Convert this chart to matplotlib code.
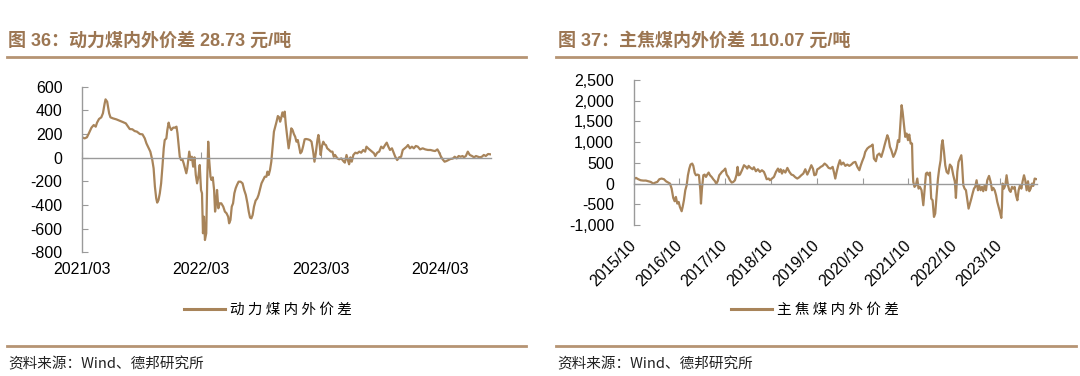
import numpy as np
import matplotlib
matplotlib.use("Agg")
import matplotlib.pyplot as plt
import matplotlib.dates as mdates
from matplotlib.lines import Line2D
from matplotlib.ticker import FuncFormatter

plt.rcParams['font.family'] = ['Liberation Sans', 'Noto Sans CJK SC', 'DejaVu Sans']
plt.rcParams['axes.unicode_minus'] = False

# ---------------- data ----------------
left_title = "图 36：动力煤内外价差 28.73 元/吨"
right_title = "图 37：主焦煤内外价差 110.07 元/吨"
left_label = "动力煤内外价差"
right_label = "主焦煤内外价差"
source_text = "资料来源：Wind、德邦研究所"

left_start = "2021-03-01"
left_days = [0, 8, 15, 21, 29, 36, 42, 46, 52, 59,
             64, 69, 72, 77, 83, 87, 95, 105, 115, 125,
             134, 141, 146, 154, 161, 168, 177, 185, 192, 197,
             204, 209, 215, 219, 223, 227, 230, 234, 238, 242,
             246, 250, 253, 258, 261, 265, 268, 273, 279, 284,
             289, 292, 296, 299, 303, 307, 311, 315, 319, 322,
             328, 332, 336, 340, 344, 348, 352, 356, 360, 364,
             367, 370, 373, 376, 380, 383, 386, 389, 393, 396,
             400, 404, 407, 410, 413, 417, 421, 426, 432, 437,
             442, 447, 450, 454, 458, 462, 466, 470, 474, 479,
             485, 491, 496, 501, 506, 510, 514, 518, 522, 526,
             531, 536, 540, 544, 549, 554, 559, 564, 567, 571,
             575, 579, 583, 587, 591, 595, 599, 603, 606, 609,
             613, 617, 620, 623, 627, 632, 636, 640, 644, 648,
             652, 656, 660, 664, 668, 672, 676, 681, 685, 691,
             697, 702, 707, 711, 715, 720, 723, 726, 730, 734,
             738, 742, 746, 750, 756, 761, 766, 770, 774, 781,
             787, 793, 799, 804, 809, 813, 817, 821, 825, 830,
             836, 842, 848, 854, 860, 866, 870, 875, 881, 887,
             893, 897, 903, 909, 915, 921, 927, 932, 937, 942,
             948, 952, 958, 964, 970, 976, 981, 987, 993, 997,
             1003, 1009, 1015, 1021, 1027, 1034, 1042, 1050, 1058, 1066,
             1074, 1080, 1087, 1091, 1097, 1103, 1109, 1115, 1121, 1127,
             1134, 1140, 1146, 1152, 1158, 1164, 1168, 1174, 1180, 1186,
             1193, 1199, 1205, 1211, 1217, 1223, 1229, 1235, 1242, 1248]
left_vals = [172, 163, 172, 206, 254, 276, 262, 296, 327, 341,
             375, 454, 493, 473, 375, 341, 332, 324, 313, 301,
             290, 262, 242, 240, 225, 220, 200, 197, 163, 121,
             79, 51, -20, -90, -245, -344, -380, -358, -301, -217,
             -76, 79, 149, 163, 234, 296, 262, 234, 254, 254,
             262, 206, 93, 8, -20, -14, -48, -90, -132, -90,
             51, -20, 8, -76, 3, -146, -217, -161, -62, -273,
             -301, -639, -499, -696, -639, -189, 135, -20, -161, -189,
             -166, -273, -456, -386, -273, -428, -386, -386, -414, -456,
             -470, -499, -555, -527, -414, -386, -301, -259, -231, -203,
             -203, -217, -273, -315, -386, -456, -507, -513, -484, -414,
             -363, -344, -315, -273, -217, -189, -161, -161, -118, -146,
             -104, -34, 93, 220, 262, 304, 352, 341, 304, 332,
             383, 347, 389, 290, 192, 79, 149, 248, 234, 200,
             177, 135, 149, 93, 37, 51, 93, 155, 158, 155,
             149, 135, 51, -34, 37, 149, 192, 135, 23, 99,
             135, 113, 107, 79, 65, 51, 51, 8, 23, -6,
             -14, -6, -28, -42, 23, -20, -56, 3, -34, 23,
             42, 37, 51, 42, 65, 51, 93, 79, 65, 51,
             37, 14, 42, 51, 93, 79, 107, 127, 93, 65,
             79, 51, 8, -20, 3, 8, 65, 79, 93, 107,
             79, 93, 79, 99, 93, 70, 79, 70, 65, 65,
             59, 56, 70, 51, 14, -14, -34, -28, -20, -11,
             -8, 8, -6, 14, 8, 14, 3, 14, 51, 23,
             14, 3, 14, 8, 3, 8, 23, 14, 31, 28.73]
left_end_day = 1250
left_ticks = ["2021-03-01", "2022-03-01", "2023-03-01", "2024-03-01"]
left_ylim = (-800, 600)
left_yticks = [-800, -600, -400, -200, 0, 200, 400, 600]

right_start = "2015-10-01"
right_days = [0, 20, 38, 57, 78, 99, 118, 137, 158, 174,
              190, 206, 224, 243, 259, 277, 291, 304, 317, 328,
              338, 349, 360, 370, 384, 392, 402, 413, 424, 434,
              445, 455, 468, 477, 488, 498, 511, 522, 533, 538,
              546, 557, 567, 578, 588, 599, 610, 623, 636, 650,
              660, 671, 684, 695, 705, 721, 732, 743, 756, 769,
              783, 796, 809, 822, 830, 838, 849, 865, 881, 897,
              907, 918, 934, 950, 960, 976, 992, 1008, 1024, 1040,
              1051, 1062, 1078, 1088, 1104, 1120, 1136, 1152, 1163, 1173,
              1184, 1195, 1211, 1227, 1243, 1259, 1274, 1290, 1306, 1322,
              1338, 1354, 1370, 1386, 1402, 1418, 1431, 1442, 1455, 1466,
              1477, 1493, 1508, 1524, 1540, 1556, 1572, 1588, 1599, 1609,
              1620, 1633, 1646, 1657, 1673, 1689, 1705, 1721, 1737, 1753,
              1769, 1785, 1801, 1811, 1824, 1838, 1848, 1864, 1880, 1896,
              1907, 1917, 1933, 1944, 1960, 1976, 1992, 2002, 2013, 2024,
              2034, 2045, 2056, 2072, 2085, 2098, 2109, 2119, 2130, 2138,
              2146, 2157, 2167, 2178, 2189, 2199, 2210, 2221, 2226, 2231,
              2241, 2252, 2263, 2273, 2284, 2297, 2311, 2321, 2332, 2342,
              2353, 2364, 2374, 2385, 2396, 2406, 2417, 2428, 2438, 2449,
              2457, 2465, 2476, 2486, 2497, 2510, 2523, 2537, 2550, 2563,
              2571, 2582, 2592, 2603, 2614, 2619, 2630, 2640, 2651, 2662,
              2672, 2683, 2694, 2704, 2715, 2725, 2736, 2747, 2757, 2768,
              2779, 2789, 2800, 2811, 2821, 2835, 2848, 2859, 2869, 2880,
              2891, 2901, 2912, 2922, 2933, 2938, 2943, 2954, 2965, 2975,
              2986, 2997, 3007, 3018, 3029, 3039, 3050, 3061, 3071, 3082,
              3093, 3103, 3114, 3124, 3135, 3146, 3156, 3167, 3178, 3188,
              3199, 3210]
right_vals = [105, 137, 105, 80, 72, 72, 56, 40, 0, 24,
              40, 105, 121, 105, 56, 24, 0, -121, -346, -427,
              -322, -483, -443, -564, -668, -564, -403, -161, -40, 201,
              362, 459, 483, 427, 258, 201, 217, 201, -161, -483,
              -121, 201, 217, 161, 217, 266, 201, 161, 105, 56,
              -8, 56, 201, 241, 282, 322, 362, 217, 161, 80,
              24, 40, 80, 217, 403, 201, 217, 322, 443, 403,
              362, 427, 378, 346, 394, 298, 346, 282, 322, 282,
              201, 105, 121, 80, 121, 161, 282, 362, 282, 346,
              241, 322, 266, 378, 282, 217, 201, 153, 121, 153,
              201, 241, 346, 217, 322, 443, 362, 201, 217, 346,
              362, 403, 427, 483, 443, 378, 362, 403, 266, 121,
              282, 443, 564, 459, 507, 427, 459, 427, 459, 507,
              523, 403, 322, 427, 539, 644, 765, 845, 886, 910,
              942, 604, 539, 684, 725, 644, 805, 926, 1047, 1167,
              1087, 886, 805, 644, 725, 845, 1047, 1006, 1530, 1892,
              1731, 1409, 1127, 1208, 1047, 1183, 966, 966, 362, 40,
              -80, -40, 121, -121, -80, -161, -523, -161, 241, 266,
              201, 266, -362, -403, -805, -724, -282, 121, 362, 564,
              926, 1047, 765, 443, 282, 241, 459, 403, 201, 40,
              -346, 282, 523, 604, 684, 523, -40, -121, -161, -403,
              -604, -483, -362, -241, -121, -80, 80, -161, -40, -161,
              -80, -185, -40, -161, 80, 185, 40, -161, -105, -161,
              -282, -443, -564, -684, -829, -564, 0, -121, -40, 201,
              -40, -161, -201, -80, -121, -80, -282, -403, -161, -40,
              -121, 56, 201, 80, -161, 56, -185, -121, 0, -56,
              121, 110.07]
right_end_day = 3220
right_ticks = ["2015-10-01", "2016-10-01", "2017-10-01", "2018-10-01",
               "2019-10-01", "2020-10-01", "2021-10-01", "2022-10-01",
               "2023-10-01"]
right_ylim = (-1000, 2500)
right_yticks = [-1000, -500, 0, 500, 1000, 1500, 2000, 2500]

# ---------------- style ----------------
W, H = 1080, 376
line_color = "#A8845A"
title_color = "#9C7652"
rule_color = "#B69473"
axis_gray = "#9A9A9A"
tick_fs = 11.5
cjk = ['Noto Sans CJK SC', 'DejaVu Sans']


def fx(px):
    return px / W


def fy(py):
    return 1 - py / H


def to_num(start, days):
    d = np.datetime64(start) + np.array(days).astype('timedelta64[D]')
    return mdates.date2num(d)


fig = plt.figure(figsize=(W / 100, H / 100), dpi=100)


def make_panel(rect, start, days, vals, end_day, ticks, ylim, yticks,
               label, rot, thousands):
    ax = fig.add_axes(rect)
    x = to_num(start, days)
    ax.plot(x, vals, color=line_color, lw=1.6, label=label, solid_joinstyle='round')
    x0 = to_num(start, [0])[0]
    x1 = to_num(start, [end_day])[0]
    ax.set_xlim(x0, x1)
    ax.set_ylim(*ylim)
    for s in ("top", "right"):
        ax.spines[s].set_visible(False)
    ax.spines["left"].set_color(axis_gray)
    ax.spines["left"].set_linewidth(1.0)
    ax.spines["bottom"].set_position(("data", 0))
    ax.spines["bottom"].set_color(axis_gray)
    ax.spines["bottom"].set_linewidth(1.0)
    tick_pos = mdates.date2num(np.array(ticks, dtype="datetime64[D]"))
    ax.set_xticks(tick_pos)
    ax.tick_params(axis="x", direction="in", length=4, color=axis_gray,
                   labelbottom=False)
    ax.set_yticks(yticks)
    ax.tick_params(axis="y", direction="in", length=4, color=axis_gray,
                   pad=14, labelsize=tick_fs, labelcolor="black")
    if thousands:
        ax.yaxis.set_major_formatter(FuncFormatter(lambda v, p: f"{int(v):,}"))
    else:
        ax.yaxis.set_major_formatter(FuncFormatter(lambda v, p: f"{int(v)}"))
    sec = ax.secondary_xaxis("bottom")
    sec.set_xticks(tick_pos)
    sec.xaxis.set_major_formatter(mdates.DateFormatter("%Y/%m"))
    sec.spines["bottom"].set_visible(False)
    if rot:
        sec.tick_params(axis="x", length=0, pad=13, labelsize=tick_fs)
        for t in sec.get_xticklabels():
            t.set_rotation(45)
            t.set_ha("right")
            t.set_va("center")
            t.set_rotation_mode("anchor")
    else:
        sec.tick_params(axis="x", length=0, pad=7, labelsize=tick_fs)
    return ax


axL = make_panel([fx(82), fy(252.3), fx(490.7 - 82), (252.3 - 86.7) / H],
                 left_start, left_days, left_vals, left_end_day, left_ticks,
                 left_ylim, left_yticks, left_label, False, False)
axR = make_panel([fx(633.5), fy(225), fx(1037.3 - 633.5), (225 - 80) / H],
                 right_start, right_days, right_vals, right_end_day, right_ticks,
                 right_ylim, right_yticks, right_label, True, True)

# legends
for ax, lab, cx in ((axL, left_label, 268), (axR, right_label, 815)):
    h = [Line2D([], [], color=line_color, lw=2.2)]
    spaced = " ".join(lab)
    ax.legend(h, [spaced], loc="center", bbox_to_anchor=(fx(cx), fy(310)),
              bbox_transform=fig.transFigure, frameon=False,
              prop={"family": cjk, "size": 10.5}, handlelength=2.8,
              handletextpad=0.3, borderpad=0, borderaxespad=0)

# titles, rules, source
for x0, x1, title in ((7, 526, left_title), (556, 1076, right_title)):
    fig.text(fx(x0 + 1.5), fy(40.5), title, ha="left", va="center",
             fontsize=13, fontweight="bold", color=title_color,
             family=['Liberation Sans', 'Noto Sans CJK SC'])
    fig.add_artist(Line2D([fx(x0), fx(x1)], [fy(57), fy(57)],
                          transform=fig.transFigure, color=rule_color, lw=2.0))
    fig.add_artist(Line2D([fx(x0), fx(x1)], [fy(345.5), fy(345.5)],
                          transform=fig.transFigure, color=rule_color, lw=2.0))
    fig.text(fx(x0 + 1), fy(364), source_text, ha="left", va="center",
             fontsize=10.5, color="#222222", family=cjk)

fig.savefig("out.png", dpi=100)
